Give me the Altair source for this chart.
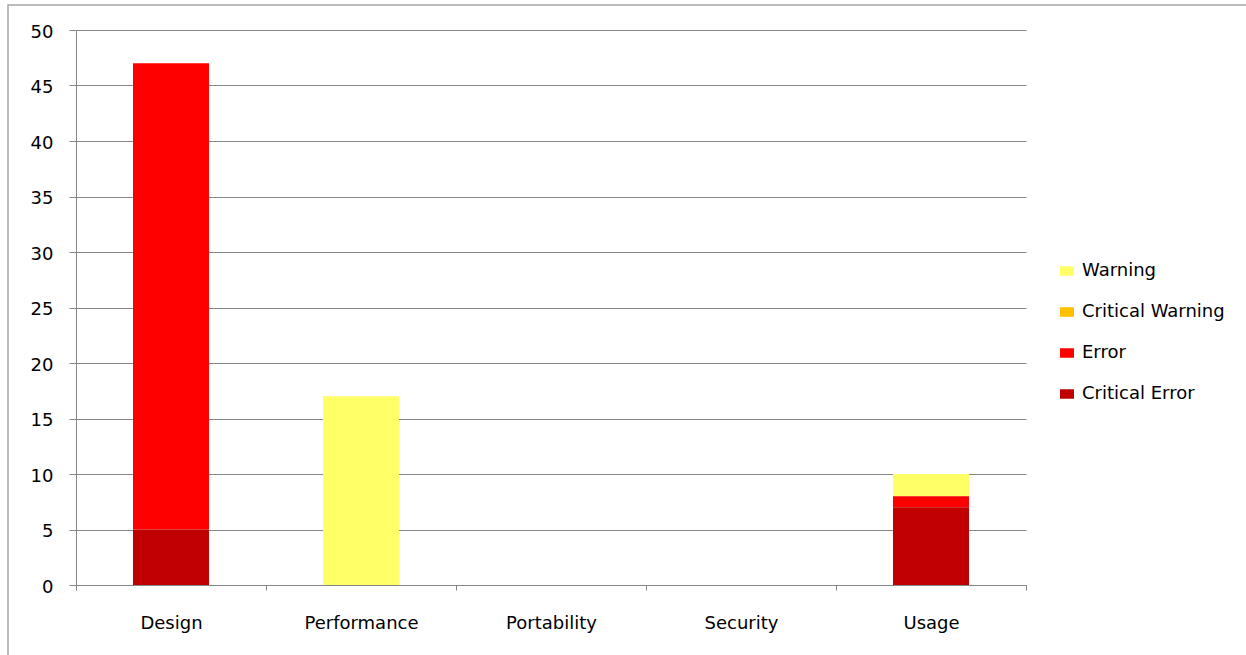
import altair as alt
import pandas as pd

categories = ["Design", "Performance", "Portability", "Security", "Usage"]
series = ["Warning", "Critical Warning", "Error", "Critical Error"]
colors = ["#FFFF66", "#FFC000", "#FF0000", "#C00000"]
warning = [0, 17, 0, 0, 2]
critical_warning = [0, 0, 0, 0, 0]
error = [42, 0, 0, 0, 1]
critical_error = [5, 0, 0, 0, 7]
stack_rank = [3, 2, 1, 0]  # bottom of stack = 0
y_ticks = list(range(0, 55, 5))

values_by_series = [warning, critical_warning, error, critical_error]
rows = []
for s, vals, rank in zip(series, values_by_series, stack_rank):
    for c, v in zip(categories, vals):
        rows.append({"Category": c, "Severity": s, "Count": v, "rank": rank})
df = pd.DataFrame(rows)

FONT = "DejaVu Sans"
FS = 18
GRAY = "#868686"

bars = alt.Chart(df).mark_bar(width=alt.RelativeBandSize(0.4)).encode(
    x=alt.X(
        "Category:N",
        sort=categories,
        scale=alt.Scale(paddingInner=0, paddingOuter=0),
        axis=alt.Axis(
            title=None, labelAngle=0, tickBand="extent", tickSize=5,
            tickColor=GRAY, domainColor=GRAY, labelFont=FONT, labelFontSize=FS,
            labelColor="#000000", labelPadding=24, grid=False,
        ),
    ),
    y=alt.Y(
        "Count:Q",
        stack="zero",
        scale=alt.Scale(domain=[0, 50], nice=False),
        axis=alt.Axis(
            title=None, values=y_ticks, tickSize=7, tickColor=GRAY,
            domainColor=GRAY, gridColor=GRAY, grid=True, labelFont=FONT,
            labelFontSize=FS, labelColor="#000000", labelPadding=16,
            labelOffset=2,
        ),
    ),
    color=alt.Color(
        "Severity:N",
        scale=alt.Scale(domain=series, range=colors),
        legend=alt.Legend(
            title=None, orient="none", legendX=982, legendY=232,
            symbolType="M-1,-0.68H1V0.68H-1Z", symbolSize=196,
            symbolStrokeWidth=0, labelFont=FONT, labelFontSize=FS,
            labelColor="#000000", rowPadding=23, padding=0, labelOffset=6,
        ),
    ),
    order=alt.Order("rank:Q", sort="ascending"),
)

border = alt.Chart(pd.DataFrame({"a": [0]})).mark_rect(
    fillOpacity=0, stroke="#a6a6a6", strokeWidth=1.5
).encode(
    x=alt.value(-68), x2=alt.value(1300), y=alt.value(-25), y2=alt.value(700)
)

chart = alt.layer(border, bars).properties(
    width=950, height=555,
    autosize=alt.AutoSizeParams(type="none"),
    padding={"left": 76, "top": 30, "right": 220, "bottom": 70},
    background="white",
).configure_view(stroke=None)

chart.save("out.html", embed_options={"renderer": "svg", "actions": False})
